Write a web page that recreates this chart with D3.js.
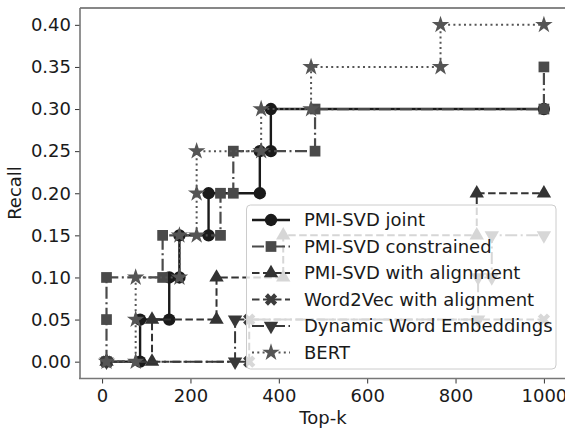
<!DOCTYPE html>
<html>
<head>
<meta charset="utf-8">
<script src="https://cdn.jsdelivr.net/npm/d3@7"></script>
<style>
  body { margin: 0; background: #fff; }
  text { font-family: "DejaVu Sans", sans-serif; }
</style>
</head>
<body>
<div id="chart"></div>
<script>
// recall at top-k, one pair of arrays per method (k, recall)
var jointK = [10, 86, 86, 152, 152, 175, 175, 241, 241, 357, 357, 382, 382, 1000];
var jointR = [0, 0, 0.05, 0.05, 0.10, 0.10, 0.15, 0.15, 0.20, 0.20, 0.25, 0.25, 0.30, 0.30];

var consK = [10, 10, 10, 137, 137, 268, 268, 297, 297, 482, 482, 1000, 1000];
var consR = [0, 0.05, 0.10, 0.10, 0.15, 0.15, 0.20, 0.20, 0.25, 0.25, 0.30, 0.30, 0.35];

var alignK = [10, 113, 113, 259, 259, 410, 410, 848, 848, 1000];
var alignR = [0, 0, 0.05, 0.05, 0.10, 0.10, 0.15, 0.15, 0.20, 0.20];

var w2vK = [10, 333, 333, 1000];
var w2vR = [0, 0, 0.05, 0.05];

var dweK = [10, 301, 301, 851, 851, 882, 882, 1000];
var dweR = [0, 0, 0.05, 0.05, 0.10, 0.10, 0.15, 0.15];

var bertK = [10, 76, 76, 76, 175, 175, 214, 214, 214, 360, 360, 473, 473, 766, 766, 1000];
var bertR = [0, 0, 0.05, 0.10, 0.10, 0.15, 0.15, 0.20, 0.25, 0.25, 0.30, 0.30, 0.35, 0.35, 0.40, 0.40];

var seriesNames = ['PMI-SVD joint', 'PMI-SVD constrained', 'PMI-SVD with alignment',
  'Word2Vec with alignment', 'Dynamic Word Embeddings', 'BERT'];
var xTicks = [0, 200, 400, 600, 800, 1000];
var yTicks = [0, 0.05, 0.10, 0.15, 0.20, 0.25, 0.30, 0.35, 0.40];

var svg_width = 565,
  svg_height = 428;

var svg = d3.select('#chart')
  .append('svg')
  .attr('width', svg_width)
  .attr('height', svg_height);

var x = d3.scaleLinear().domain([-50, 1050]).range([80, 566]);
var y = d3.scaleLinear().domain([-0.02, 0.42]).range([378.5, 8]);

// filled "X" marker like matplotlib
function xMarker(L, w) {
  var pts = [[-w,-L],[w,-L],[w,-w],[L,-w],[L,w],[w,w],[w,L],[-w,L],[-w,w],[-L,w],[-L,-w],[-w,-w]];
  var c = Math.SQRT1_2;
  return 'M' + pts.map(function (p) {
    return [(p[0] - p[1]) * c, (p[0] + p[1]) * c].join(',');
  }).join('L') + 'Z';
}

var styles = [
  {k: jointK, r: jointR, color: '#1a1a1a', width: 2.4, dash: null, sym: d3.symbol(d3.symbolCircle, 120)()},
  {k: consK, r: consR, color: '#4a4a4a', width: 2.2, dash: '12,3.5,2,3.5', sym: d3.symbol(d3.symbolSquare, 115)()},
  {k: alignK, r: alignR, color: '#333333', width: 2, dash: '7.5,3.5', sym: d3.symbol(d3.symbolTriangle, 90)()},
  {k: w2vK, r: w2vR, color: '#3c3c3c', width: 2, dash: '7.5,3.5', sym: xMarker(6.5, 2.2)},
  {k: dweK, r: dweR, color: '#383838', width: 2, dash: '12,3.5,2,3.5', sym: d3.symbol(d3.symbolTriangle, 90)(), flip: true},
  {k: bertK, r: bertR, color: '#555555', width: 2, dash: '2,3.3', sym: d3.symbol(d3.symbolStar, 95)()}
];

// axes
var xAxis = svg.append('g')
  .attr('transform', 'translate(0,378.5)')
  .call(d3.axisBottom(x).tickValues(xTicks).tickSize(5).tickPadding(5.5).tickFormat(d3.format('d')));
var yAxis = svg.append('g')
  .attr('transform', 'translate(80,0)')
  .call(d3.axisLeft(y).tickValues(yTicks).tickSize(5).tickPadding(4).tickFormat(d3.format('.2f')));

[xAxis, yAxis].forEach(function (a) {
  a.select('.domain').remove();
  a.selectAll('line').attr('stroke', '#333').attr('stroke-width', 1);
  a.selectAll('text')
    .attr('fill', '#1a1a1a')
    .style('font-size', '18px')
    .style('font-family', '"DejaVu Sans", sans-serif');
});

// frame
svg.append('line').attr('x1', 80).attr('x2', 566).attr('y1', 8).attr('y2', 8)
  .attr('stroke', '#111').attr('stroke-width', 1.2);
svg.append('line').attr('x1', 80).attr('x2', 80).attr('y1', 8).attr('y2', 379)
  .attr('stroke', '#777').attr('stroke-width', 1.6);
svg.append('line').attr('x1', 79).attr('x2', 566).attr('y1', 378.5).attr('y2', 378.5)
  .attr('stroke', '#777').attr('stroke-width', 1.6);

// series
var line = d3.line()
  .x(function (d) { return x(d[0]); })
  .y(function (d) { return y(d[1]); });

var plot = svg.append('g');
styles.forEach(function (s) {
  var pts = s.k.map(function (k, i) { return [k, s.r[i]]; });
  plot.append('path')
    .datum(pts)
    .attr('d', line)
    .attr('fill', 'none')
    .attr('stroke', s.color)
    .attr('stroke-width', s.width)
    .attr('stroke-dasharray', s.dash);
  plot.selectAll(null)
    .data(pts)
    .enter().append('path')
    .attr('d', s.sym)
    .attr('transform', function (d) {
      return 'translate(' + x(d[0]) + ',' + y(d[1]) + ')' + (s.flip ? ' rotate(180)' : '');
    })
    .attr('fill', s.color);
});

// legend
var legend = svg.append('g');
legend.append('rect')
  .attr('x', 246.5).attr('y', 205)
  .attr('width', 309.5).attr('height', 164)
  .attr('rx', 4)
  .attr('fill', 'white').attr('fill-opacity', 0.8)
  .attr('stroke', '#cccccc').attr('stroke-width', 1);

styles.forEach(function (s, i) {
  var ly = 220 + i * 26.5;
  legend.append('line')
    .attr('x1', 252).attr('x2', 290).attr('y1', ly).attr('y2', ly)
    .attr('stroke', s.color)
    .attr('stroke-width', s.width)
    .attr('stroke-dasharray', s.dash);
  legend.append('path')
    .attr('d', s.sym)
    .attr('transform', 'translate(271,' + ly + ')' + (s.flip ? ' rotate(180)' : ''))
    .attr('fill', s.color);
  legend.append('text')
    .attr('x', 304).attr('y', ly)
    .attr('dy', '0.35em')
    .attr('fill', '#1a1a1a')
    .style('font-size', '18px')
    .text(seriesNames[i]);
});

// axis labels
svg.append('text')
  .attr('x', 323).attr('y', 424)
  .attr('text-anchor', 'middle')
  .attr('fill', '#1a1a1a')
  .style('font-size', '18px')
  .text('Top-k');
svg.append('text')
  .attr('transform', 'translate(21,193) rotate(-90)')
  .attr('text-anchor', 'middle')
  .attr('fill', '#1a1a1a')
  .style('font-size', '18px')
  .text('Recall');
</script>
</body>
</html>
